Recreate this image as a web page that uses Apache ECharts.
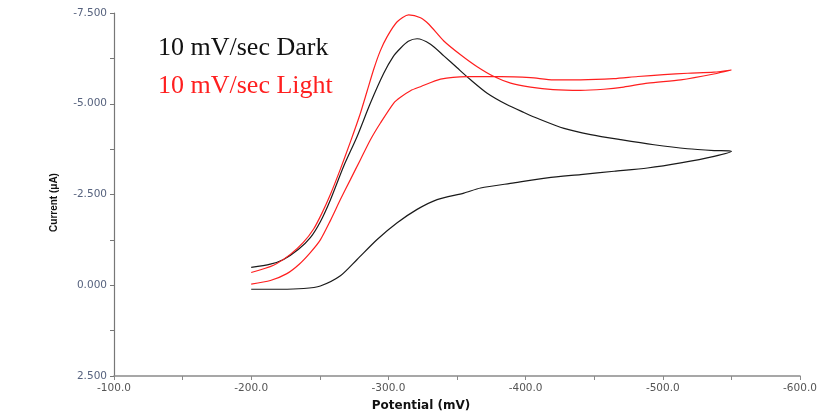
<!DOCTYPE html>
<html>
<head>
<meta charset="utf-8">
<script src="https://cdn.jsdelivr.net/npm/echarts@6/dist/echarts.min.js"></script>
<style>
  html, body { margin: 0; padding: 0; background: #fff; }
  #main { width: 838px; height: 419px; }
</style>
</head>
<body>
<div id="main"></div>
<script>
// 10 mV/sec Dark : forward sweep -200 -> -550, then back to -200
var darkPotential = [-200, -213.9, -223.6, -234.5, -243.1, -250.4, -257.7, -267.4, -277.2, -286.9,
    -296.6, -303.5, -308.8, -314.5, -320.9, -330.7, -340.4, -350.1, -359.9, -372.0,
    -386.6, -398.8, -408.5, -428.0, -447.4, -469.3, -493.6, -518.0, -537.4, -550,
    -537.4, -513.1, -488.8, -464.5, -440.1, -415.8, -391.5, -367.2, -355.0, -335.5,
    -320.9, -306.4, -291.8, -277.2, -265.0, -250.4, -238.2, -221.2, -200];
var darkCurrent = [-0.49, -0.58, -0.71, -0.99, -1.31, -1.75, -2.35, -3.28, -4.10, -5.02,
    -5.84, -6.30, -6.53, -6.72, -6.79, -6.64, -6.32, -5.99, -5.66, -5.29,
    -4.97, -4.76, -4.60, -4.32, -4.15, -4.01, -3.87, -3.76, -3.71, -3.69,
    -3.55, -3.37, -3.23, -3.14, -3.05, -2.96, -2.82, -2.68, -2.54, -2.36,
    -2.09, -1.72, -1.26, -0.71, -0.26, 0.02, 0.09, 0.11, 0.11];

// 10 mV/sec Light
var lightPotential = [-200, -216.3, -228.5, -238.0, -245.5, -251.5, -257.7, -265.0, -272.3, -279.6,
    -284.5, -289.3, -294.0, -299.1, -306.4, -314.8, -323.4, -329.5, -340.4, -352.6,
    -364.7, -376.9, -389.1, -403.6, -420.0, -440.0, -456.9, -471.5, -489.1, -513.1,
    -537.2, -550,
    -537.2, -518.2, -500.7, -481.8, -464.2, -440.1, -420.4, -403.6, -381.8, -357.4,
    -338.0, -323.4, -316.1, -308.8, -303.9, -294.2, -286.9, -279.6, -272.3, -265.0,
    -257.7, -250.4, -243.1, -235.0, -226.0, -214.0, -200];
var lightCurrent = [-0.35, -0.55, -0.85, -1.18, -1.55, -1.98, -2.50, -3.20, -3.95, -4.74,
    -5.35, -5.95, -6.45, -6.85, -7.26, -7.45, -7.37, -7.19, -6.73, -6.35,
    -6.02, -5.75, -5.57, -5.46, -5.39, -5.37, -5.40, -5.46, -5.57, -5.66,
    -5.82, -5.93,
    -5.87, -5.84, -5.80, -5.75, -5.69, -5.66, -5.66, -5.72, -5.75, -5.75,
    -5.68, -5.47, -5.36, -5.18, -5.02, -4.47, -4.01, -3.46, -2.91, -2.36,
    -1.78, -1.25, -0.90, -0.58, -0.32, -0.13, -0.03];

var seriesNames = ['10 mV/sec Dark', '10 mV/sec Light'];
var seriesColors = ['#1a1a1a', '#ff1f1f'];

function pairUp(xs, ys){
    var out = [];
    for(var i=0;i<xs.length;i++){
        out.push([xs[i], ys[i]]);
    }
    return out;
}

var chart = echarts.init(document.getElementById('main'), null, {renderer: 'canvas'});

var option = {
    animation: false,
    backgroundColor: '#ffffff',
    grid: {
        left: 114,
        right: 38,
        top: 13,
        bottom: 43,
        containLabel: false,
        outerBoundsMode: 'none'
    },
    legend: {
        orient: 'vertical',
        left: 148,
        top: 28,
        icon: 'none',
        itemWidth: 0,
        itemHeight: 0,
        itemGap: 8,
        selectedMode: false,
        data: [
            {name: seriesNames[0], textStyle: {color: '#111111'}},
            {name: seriesNames[1], textStyle: {color: '#ff1f1f'}}
        ],
        textStyle: {
            fontFamily: 'Liberation Serif',
            fontSize: 26,
            lineHeight: 30
        }
    },
    xAxis: {
        type: 'value',
        min: -600,
        max: -100,
        interval: 100,
        inverse: true,
        name: 'Potential (mV)',
        nameLocation: 'middle',
        nameGap: 24,
        nameTextStyle: {
            fontFamily: 'DejaVu Sans',
            fontWeight: 'bold',
            fontSize: 12,
            color: '#111',
            padding: [0, 72, 0, 0]
        },
        axisLine: {show: true, onZero: false, lineStyle: {color: '#8a8a8a', width: 1.5}},
        axisTick: {show: true, length: 4, lineStyle: {color: '#8a8a8a'}},
        minorTick: {show: true, splitNumber: 2, length: 4, lineStyle: {color: '#8a8a8a'}},
        splitLine: {show: false},
        axisLabel: {
            margin: 7,
            fontFamily: 'DejaVu Sans',
            fontSize: 10.5,
            color: '#555',
            formatter: function(v){ return v.toFixed(1); }
        }
    },
    yAxis: {
        type: 'value',
        min: -7.5,
        max: 2.5,
        interval: 2.5,
        inverse: true,
        name: 'Current (\u03bcA)',
        nameLocation: 'middle',
        nameGap: 55,
        nameRotate: 90,
        nameTextStyle: {
            fontFamily: 'Liberation Sans',
            fontWeight: 'bold',
            fontSize: 10,
            color: '#111',
            padding: [0, 16, 0, 0]
        },
        axisLine: {show: true, onZero: false, lineStyle: {color: '#777', width: 1.2}},
        axisTick: {show: true, length: 4, lineStyle: {color: '#777'}},
        minorTick: {show: true, splitNumber: 2, length: 4, lineStyle: {color: '#777'}},
        splitLine: {show: false},
        axisLabel: {
            margin: 7,
            fontFamily: 'DejaVu Sans',
            fontSize: 10.5,
            color: '#56627e',
            formatter: function(v){ return v.toFixed(3); }
        }
    },
    series: [
        {
            name: seriesNames[0],
            type: 'line',
            data: pairUp(darkPotential, darkCurrent),
            showSymbol: false,
            smooth: 0.25,
            lineStyle: {color: seriesColors[0], width: 1.2},
            itemStyle: {color: seriesColors[0]}
        },
        {
            name: seriesNames[1],
            type: 'line',
            data: pairUp(lightPotential, lightCurrent),
            showSymbol: false,
            smooth: 0.25,
            lineStyle: {color: seriesColors[1], width: 1.2},
            itemStyle: {color: seriesColors[1]}
        }
    ]
};

chart.setOption(option);
</script>
</body>
</html>
